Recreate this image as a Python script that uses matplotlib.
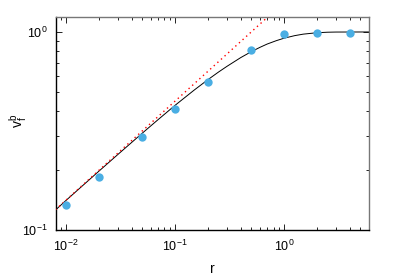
import numpy as np
import matplotlib
matplotlib.use("Agg")
import matplotlib.pyplot as plt
from matplotlib.ticker import LogLocator, LogFormatterMathtext, NullFormatter

plt.rcParams['font.family'] = ['Liberation Sans', 'DejaVu Sans']
plt.rcParams['mathtext.fontset'] = 'custom'
plt.rcParams['mathtext.rm'] = 'Liberation Sans'
plt.rcParams['mathtext.it'] = 'Liberation Sans'
plt.rcParams['mathtext.default'] = 'regular'

# measured points
r_pts = [0.01, 0.02, 0.05, 0.1, 0.2, 0.5, 1.0, 2.0, 4.0]
v_pts = [0.133, 0.186, 0.294, 0.407, 0.559, 0.811, 0.973, 0.985, 0.985]

# model curve
r_curve = [0.008, 0.01, 0.02, 0.03, 0.05, 0.07, 0.1, 0.15, 0.2, 0.25, 0.3, 0.4,
           0.5, 0.6, 0.7, 0.85, 1.0, 1.25, 1.5, 2.0, 2.5, 3.0, 6.0]
v_curve = [0.126, 0.141, 0.198, 0.241, 0.308, 0.361, 0.426, 0.509, 0.574, 0.627,
           0.671, 0.742, 0.795, 0.836, 0.869, 0.904, 0.930, 0.958, 0.975, 0.991,
           0.997, 0.999, 1.0]

# small-r asymptote
r_asym = [0.008, 0.75]
v_asym = [0.1265, 1.225]

fig = plt.figure(figsize=(3.95, 2.76), dpi=100)
ax = fig.add_axes([0.1418, 0.1667, 0.7922, 0.7717])

ax.plot(r_curve, v_curve, color='black', lw=0.7, zorder=2)
ax.plot(r_asym, v_asym, color='red', lw=1.0, ls=(0, (1, 2.5)), zorder=3)
ax.plot(r_pts, v_pts, 'o', color='#4aaee3', ms=6, mec='none', zorder=4)

ax.set_xscale('log')
ax.set_yscale('log')
ax.set_xlim(0.0081, 6.0)
ax.set_ylim(0.1, 1.19)

ax.xaxis.set_major_locator(LogLocator(base=10, numticks=10))
ax.xaxis.set_minor_locator(LogLocator(base=10, subs=np.arange(2, 10), numticks=20))
ax.yaxis.set_major_locator(LogLocator(base=10, numticks=10))
ax.yaxis.set_minor_locator(LogLocator(base=10, subs=np.arange(2, 10), numticks=20))
ax.xaxis.set_major_formatter(LogFormatterMathtext())
ax.yaxis.set_major_formatter(LogFormatterMathtext())
ax.xaxis.set_minor_formatter(NullFormatter())
ax.yaxis.set_minor_formatter(NullFormatter())

ax.tick_params(which='both', direction='in', top=True, right=True,
               labelsize=9, width=0.6, pad=6)
ax.tick_params(which='major', length=4)
ax.tick_params(which='minor', length=2)

for s in ['left', 'bottom']:
    ax.spines[s].set_linewidth(1.0)
    ax.spines[s].set_color('black')
for s in ['top', 'right']:
    ax.spines[s].set_linewidth(1.0)
    ax.spines[s].set_color('#777777')

ax.set_xlabel('r', fontsize=10, labelpad=6)
ax.set_ylabel('$v_f^b$', fontsize=10)
ax.yaxis.set_label_coords(-0.085, 0.51)

fig.savefig('out.png', dpi=100)
